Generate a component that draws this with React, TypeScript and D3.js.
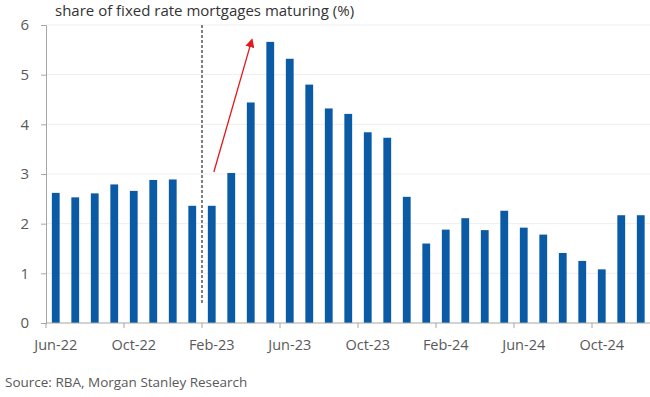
import React, { useEffect, useRef } from 'react';
import * as d3 from 'd3';

const months = [
  'Jun-22', 'Jul-22', 'Aug-22', 'Sep-22', 'Oct-22', 'Nov-22', 'Dec-22',
  'Jan-23', 'Feb-23', 'Mar-23', 'Apr-23', 'May-23', 'Jun-23', 'Jul-23', 'Aug-23', 'Sep-23', 'Oct-23', 'Nov-23', 'Dec-23',
  'Jan-24', 'Feb-24', 'Mar-24', 'Apr-24', 'May-24', 'Jun-24', 'Jul-24', 'Aug-24', 'Sep-24', 'Oct-24', 'Nov-24', 'Dec-24',
];

const shareMaturing = [
  2.62, 2.53, 2.61, 2.79, 2.66, 2.88, 2.89,
  2.36, 2.36, 3.02, 4.44, 5.66, 5.32, 4.8, 4.32, 4.21, 3.84, 3.73, 2.54,
  1.6, 1.88, 2.11, 1.87, 2.26, 1.92, 1.78, 1.41, 1.25, 1.08, 2.17, 2.17,
];

const labelMonths = ['Jun-22', 'Oct-22', 'Feb-23', 'Jun-23', 'Oct-23', 'Feb-24', 'Jun-24', 'Oct-24'];
const yTicks = [0, 1, 2, 3, 4, 5, 6];

const markerMonth = 'Feb-23';
const arrowFrom = { month: 'Feb-23', value: 3.04 };
const arrowTo = { month: 'Apr-23', value: 5.7 };

export default function App() {
  const svgRef = useRef<SVGSVGElement>(null);

  useEffect(() => {
    if (!svgRef.current) return;
    const width = 650;
    const height = 397;
    const margin = { top: 25, right: 0, bottom: 74, left: 46 };
    const font = "'Open Sans', 'DejaVu Sans', sans-serif";
    const textColor = '#595959';

    const svg = d3.select(svgRef.current);
    svg.selectAll('*').remove();
    svg.attr('width', width).attr('height', height);

    const x = d3
      .scaleBand()
      .domain(months)
      .range([margin.left, margin.left + 19.5 * months.length])
      .paddingInner(0.6)
      .paddingOuter(0.3);
    const step = x.step();
    const start = (m: string) => (x(m) || 0) - step * x.paddingInner() / 2;

    const y = d3.scaleLinear().domain([0, 6]).range([height - margin.bottom, margin.top]);

    // gridlines
    svg.append('g')
      .selectAll('line')
      .data(yTicks.filter(t => t > 0))
      .enter()
      .append('line')
      .attr('x1', margin.left)
      .attr('x2', width)
      .attr('y1', d => y(d))
      .attr('y2', d => y(d))
      .attr('stroke', '#eeeeee')
      .attr('stroke-width', 1);

    svg.append('g')
      .selectAll('rect')
      .data(shareMaturing)
      .enter()
      .append('rect')
      .attr('x', (_d, i) => x(months[i]) || 0)
      .attr('width', x.bandwidth())
      .attr('y', d => y(d))
      .attr('height', d => y(0) - y(d))
      .attr('fill', '#0a5aa5');

    // y axis
    const yAxis = svg.append('g')
      .attr('transform', `translate(${margin.left},0)`)
      .call(d3.axisLeft(y).tickValues(yTicks).tickSize(5).tickPadding(12).tickFormat(d3.format('d')));
    yAxis.select('.domain').attr('stroke', '#a6a6a6');
    yAxis.selectAll('.tick line').attr('stroke', '#a6a6a6');
    yAxis.selectAll('.tick text')
      .attr('font-family', font)
      .attr('font-size', 15)
      .attr('fill', textColor);

    // x axis: ticks at category boundaries, labels centred on bars
    const xg = svg.append('g').attr('transform', `translate(0,${y(0)})`);
    xg.append('line')
      .attr('x1', margin.left)
      .attr('x2', width)
      .attr('stroke', '#a6a6a6');
    xg.selectAll('line.tk')
      .data(labelMonths)
      .enter()
      .append('line')
      .attr('class', 'tk')
      .attr('x1', d => start(d))
      .attr('x2', d => start(d))
      .attr('y1', 0)
      .attr('y2', 5)
      .attr('stroke', '#a6a6a6');
    xg.selectAll('text')
      .data(labelMonths)
      .enter()
      .append('text')
      .attr('x', d => (x(d) || 0) + x.bandwidth() / 2)
      .attr('y', 27)
      .attr('text-anchor', 'middle')
      .attr('font-family', font)
      .attr('font-size', 14.5)
      .attr('fill', textColor)
      .text(d => d);

    // dashed marker
    svg.append('line')
      .attr('x1', start(markerMonth))
      .attr('x2', start(markerMonth))
      .attr('y1', y(6))
      .attr('y2', y(0.4))
      .attr('stroke', '#555555')
      .attr('stroke-width', 1.5)
      .attr('stroke-dasharray', '3,2');

    // red arrow
    svg.append('defs')
      .append('marker')
      .attr('id', 'arrowhead')
      .attr('viewBox', '0 0 10 10')
      .attr('refX', 8)
      .attr('refY', 5)
      .attr('markerWidth', 7)
      .attr('markerHeight', 7)
      .attr('orient', 'auto')
      .append('path')
      .attr('d', 'M0,0 L10,5 L0,10 z')
      .attr('fill', '#e31a1c');
    svg.append('line')
      .attr('x1', (x(arrowFrom.month) || 0) + 6)
      .attr('y1', y(arrowFrom.value))
      .attr('x2', (x(arrowTo.month) || 0) + 5)
      .attr('y2', y(arrowTo.value))
      .attr('stroke', '#e31a1c')
      .attr('stroke-width', 1.3)
      .attr('marker-end', 'url(#arrowhead)');

    svg.append('text')
      .attr('x', 55)
      .attr('y', 16)
      .attr('font-family', font)
      .attr('font-size', 15)
      .attr('fill', '#333333')
      .text('share of fixed rate mortgages maturing (%)');

    svg.append('text')
      .attr('x', 5)
      .attr('y', 387)
      .attr('font-family', font)
      .attr('font-size', 13.5)
      .attr('fill', textColor)
      .text('Source: RBA, Morgan Stanley Research');
  }, []);

  return <svg ref={svgRef} style={{ position: 'absolute', left: 0, top: 0 }}></svg>;
}
